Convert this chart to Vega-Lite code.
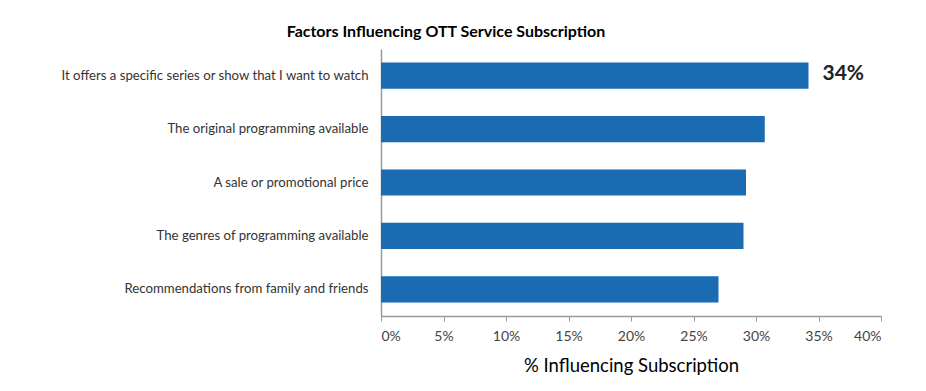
{
  "$schema": "https://vega.github.io/schema/vega-lite/v6.json",
  "autosize": "none",
  "width": 500,
  "height": 267,
  "padding": {"left": 381, "top": 49, "right": 45, "bottom": 75},
  "background": "white",
  "title": {
    "text": "Factors Influencing OTT Service Subscription",
    "font": "Lato",
    "fontSize": 16,
    "fontWeight": "bold",
    "color": "#000000",
    "anchor": "middle",
    "dx": -185,
    "offset": 9
  },
  "data": {
    "values": [
      {"factor": "It offers a specific series or show that I want to watch", "pct": 34.2, "label": "34%"},
      {"factor": "The original programming available", "pct": 30.7, "label": ""},
      {"factor": "A sale or promotional price", "pct": 29.2, "label": ""},
      {"factor": "The genres of programming available", "pct": 29.0, "label": ""},
      {"factor": "Recommendations from family and friends", "pct": 27.0, "label": ""}
    ]
  },
  "encoding": {
    "y": {
      "field": "factor",
      "type": "nominal",
      "sort": null,
      "scale": {"paddingInner": 0.51, "paddingOuter": 0.255},
      "axis": {
        "title": null,
        "ticks": false,
        "domainColor": "#9a9a9a",
        "domainWidth": 1.5,
        "labelFont": "Lato",
        "labelFontSize": 13.2,
        "labelColor": "#333333",
        "labelPadding": 13,
        "labelLimit": 400
      }
    },
    "x": {
      "field": "pct",
      "type": "quantitative",
      "scale": {"domain": [0, 40]},
      "axis": {
        "values": [0, 5, 10, 15, 20, 25, 30, 35, 40],
        "labelExpr": "datum.value + '%'",
        "title": "% Influencing Subscription",
        "titleFont": "Lato",
        "titleFontSize": 18.5,
        "titleFontWeight": "normal",
        "titleColor": "#000000",
        "titlePadding": 13,
        "grid": false,
        "domainColor": "#9a9a9a",
        "domainWidth": 1.5,
        "tickColor": "#9a9a9a",
        "tickSize": 5,
        "labelFont": "Lato",
        "labelFontSize": 14,
        "labelColor": "#444444",
        "labelPadding": 8
      }
    }
  },
  "layer": [
    {"mark": {"type": "bar", "color": "#1b6bb2"}},
    {
      "mark": {"type": "text", "align": "left", "baseline": "middle", "dx": 14, "dy": -2, "font": "Lato", "fontSize": 21, "fontWeight": "bold", "color": "#222222"},
      "encoding": {"text": {"field": "label"}}
    }
  ],
  "config": {"view": {"stroke": null}}
}
